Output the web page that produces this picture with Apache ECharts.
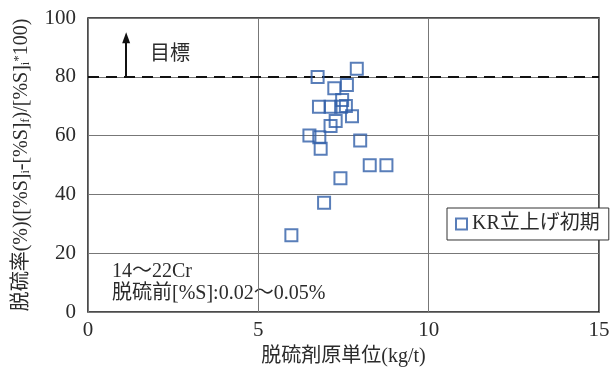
<!DOCTYPE html>
<html>
<head>
<meta charset="utf-8">
<script src="https://cdn.jsdelivr.net/npm/echarts@6/dist/echarts.min.js"></script>
<style>
  html, body { margin: 0; padding: 0; background: #fff; }
  #chart { width: 613px; height: 374px; }
</style>
</head>
<body>
<div id="chart"></div>
<script>
// Desulfurization agent consumption (kg/t) vs desulfurization rate (%)
const agentUnit = [7.89, 6.74, 7.23, 7.60, 7.46, 6.78, 7.12, 7.43, 7.57, 7.75, 7.27, 7.12, 6.50, 6.79, 6.83, 7.99, 8.27, 8.76, 7.41, 6.93, 5.97];
const desulfRate = [82.7, 79.9, 76.1, 77.2, 72.1, 69.8, 69.8, 69.8, 70.1, 66.6, 65.0, 63.3, 60.0, 59.4, 55.5, 58.3, 49.9, 49.9, 45.5, 37.2, 26.1];
const xTicks = [0, 5, 10, 15];
const yTicks = [0, 20, 40, 60, 80, 100];
const targetRate = 80;
const seriesName = 'KR立上げ初期';

const serif = '"Liberation Serif", "DejaVu Serif", "Noto Sans CJK JP", serif';
const blue = '#2f5ea8';
const ink = '#2b2b2b';

const points = agentUnit.map((x, i) => [x, desulfRate[i]]);

const chart = echarts.init(document.getElementById('chart'));
chart.setOption({
  animation: false,
  backgroundColor: '#fff',
  grid: { left: 88, right: 14, top: 18, bottom: 62, show: true, borderColor: '#111', borderWidth: 1.5 },
  xAxis: {
    type: 'value', min: xTicks[0], max: xTicks[xTicks.length - 1], interval: 5,
    name: '脱硫剤原単位(kg/t)', nameLocation: 'middle', nameGap: 35,
    nameTextStyle: { fontFamily: serif, fontSize: 20, color: ink },
    axisLine: { show: false },
    axisTick: { show: false },
    axisLabel: { fontFamily: serif, fontSize: 21, color: ink, margin: 8 },
    splitLine: { show: true, lineStyle: { color: '#777', width: 1 } }
  },
  yAxis: {
    type: 'value', min: yTicks[0], max: yTicks[yTicks.length - 1], interval: 20,
    name: '{n|脱硫率(%)([%S]}{s|i}{n|-[%S]}{s|f}{n|)/[%S]}{s|i}{p|*}{n|100)}',
    nameLocation: 'middle', nameGap: 56, nameRotate: 90,
    nameTextStyle: {
      fontFamily: serif, fontSize: 20, color: ink,
      rich: {
        n: { fontFamily: serif, fontSize: 20, color: ink },
        s: { fontFamily: serif, fontSize: 12, color: ink, padding: [8, 0, 0, 0] },
        p: { fontFamily: serif, fontSize: 13, color: ink, padding: [0, 0, 6, 0] }
      }
    },
    axisLine: { show: false },
    axisTick: { show: false },
    axisLabel: { fontFamily: serif, fontSize: 21, color: ink, margin: 12 },
    splitLine: { show: true, lineStyle: { color: '#777', width: 1 } }
  },
  legend: {
    data: [{ name: seriesName, icon: 'rect', itemStyle: { color: '#fff', borderColor: blue, borderWidth: 2 } }],
    left: 447, top: 208,
    itemWidth: 11, itemHeight: 11, itemGap: 7,
    padding: [6, 9, 6, 8],
    backgroundColor: '#fff', borderColor: '#333', borderWidth: 1,
    textStyle: { fontFamily: serif, fontSize: 20, color: ink }
  },
  series: [
    {
      name: seriesName,
      type: 'scatter',
      symbol: 'rect', symbolSize: 12,
      itemStyle: { color: 'rgba(255,255,255,0)', borderColor: blue, borderWidth: 2 },
      data: points,
      z: 5
    },
    {
      // target line and upward arrow
      type: 'line', data: [], silent: true,
      markLine: {
        silent: true, animation: false,
        label: { show: false },
        data: [
          [{ coord: [0, targetRate], symbol: 'none', lineStyle: { color: '#111', width: 2.2, type: [11, 7] } },
           { coord: [15, targetRate], symbol: 'none' }],
          [{ coord: [1.12, targetRate], symbol: 'none', lineStyle: { color: '#111', width: 2, type: 'solid' } },
           { coord: [1.12, 93.3], symbol: 'triangle', symbolSize: [8, 11] }]
        ]
      },
      z: 4
    }
  ],
  graphic: [
    { type: 'text', left: 150, top: 45, style: { text: '目標', font: '20px ' + serif, fill: ink } },
    { type: 'text', left: 112, top: 262, style: { text: '14〜22Cr', font: '20px ' + serif, fill: ink } },
    { type: 'text', left: 112, top: 284, style: { text: '脱硫前[%S]:0.02〜0.05%', font: '20px ' + serif, fill: ink } }
  ]
});
</script>
</body>
</html>
